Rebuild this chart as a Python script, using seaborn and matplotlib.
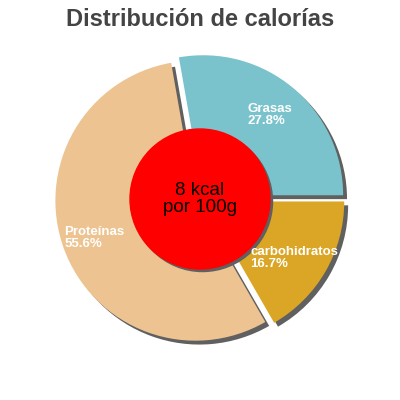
import matplotlib.pyplot as plt
import seaborn as sns
from matplotlib.patches import Circle

sns.set_style("white")
plt.rcParams["font.family"] = ["Liberation Sans", "DejaVu Sans"]

# data
categories = ["Grasas", "Proteínas", "carbohidratos"]
percentages = [27.8, 55.6, 16.7]
colors = ["#7ac3cc", "#edc491", "#dba626"]
center_text = "8 kcal\npor 100g"
title = "Distribución de calorías"

# where the white labels sit (in pie radius units)
label_pos = [(0.34, 0.6), (-0.97, -0.28), (0.36, -0.42)]

fig = plt.figure(figsize=(4, 4), dpi=100)
ax = fig.add_axes([0, 0, 1, 1])

wedges, _ = ax.pie(
    percentages,
    colors=colors,
    startangle=0,
    counterclock=True,
    explode=[0.035] * len(percentages),
    shadow={"ox": 0.02, "oy": -0.02, "color": "#606060", "alpha": 1.0},
    wedgeprops={"linewidth": 0},
)

# shadow + red centre disc
ax.add_patch(Circle((0.018, -0.018), 0.5, color="#606060", zorder=3))
ax.add_patch(Circle((0, 0), 0.5, color="#ff0000", zorder=4))
ax.text(0, 0, center_text, ha="center", va="center", fontsize=13.5,
        color="black", zorder=5, linespacing=1.0)

for name, pct, (x, y) in zip(categories, percentages, label_pos):
    ax.text(x, y, f"{name}\n{pct}%", ha="left", va="center", fontsize=9.5,
            color="white", fontweight="bold", zorder=5, linespacing=0.95)

ax.set_xlim(-200 / 140, 200 / 140)
ax.set_ylim(-201 / 140, 199 / 140)
ax.set_aspect("equal")
ax.axis("off")

fig.text(0.5, 0.952, title, ha="center", va="center", fontsize=17,
         fontweight="bold", color="#444444")

fig.savefig("out.png", dpi=100)
plt.close()
